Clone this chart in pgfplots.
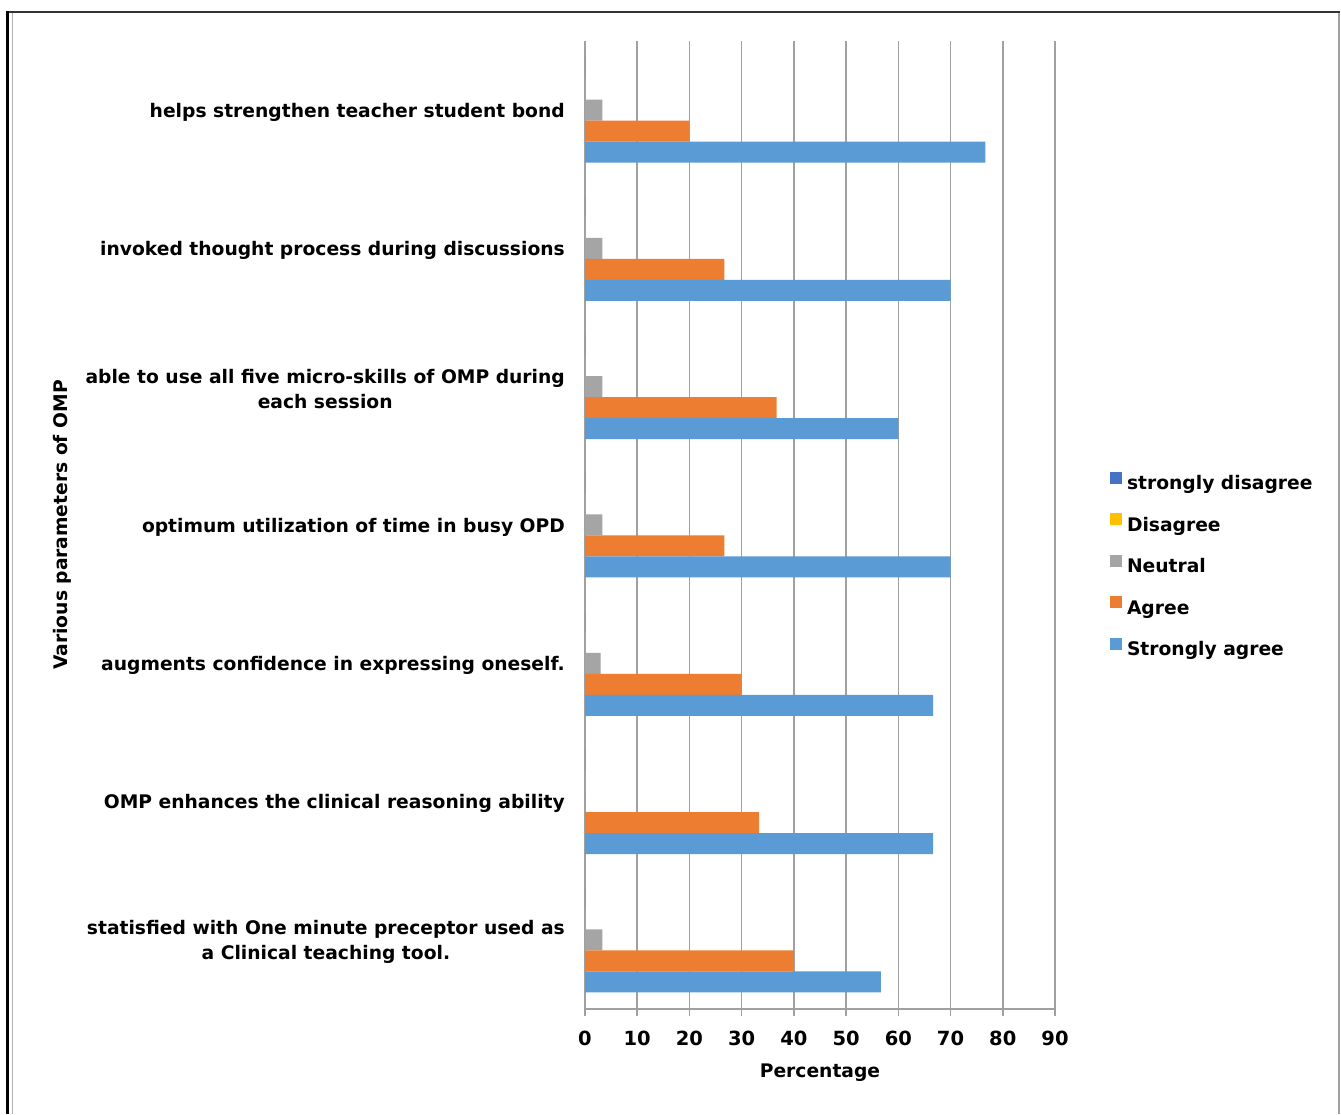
\documentclass[border=0pt]{standalone}
\usepackage{fontspec}
\setmainfont{DejaVu Sans}
\usepackage{pgfplots}
\pgfplotsset{compat=1.18}
\definecolor{cSD}{HTML}{4472C4}
\definecolor{cDA}{HTML}{FFC000}
\definecolor{cNE}{HTML}{A5A5A5}
\definecolor{cAG}{HTML}{ED7D31}
\definecolor{cSA}{HTML}{5B9BD5}
\definecolor{gridgray}{HTML}{A0A0A0}
\newcommand{\lblfont}{\fontsize{18.7bp}{25bp}\selectfont\bfseries}
\begin{document}
\begin{tikzpicture}[x=1bp,y=1bp]
\useasboundingbox (0,0) rectangle (1341,1114);
\fill[white] (0,0) rectangle (1341,1114);
\draw[line width=1.5bp, black!80] (6,1102) -- (1340,1102);
\draw[line width=3bp, black] (7.5,1103) -- (7.5,0);
\draw[line width=1bp, black!30] (12.5,1101) -- (12.5,0);
\draw[line width=2bp, gridgray] (1339,1101) -- (1339,0);
\begin{axis}[
  at={(585bp,105bp)}, anchor=south west,
  scale only axis, width=470bp, height=968bp,
  xbar, bar width=0.1518,
  xmin=0, xmax=90, ymin=-0.5, ymax=6.5,
  xtick={0,10,...,90},
  ytick={0,1,2,3,4,5,6},
  yticklabels={{statisfied with One minute preceptor used as\\a Clinical teaching tool.},
    {OMP enhances the clinical reasoning ability},
    {augments confidence in expressing oneself.},
    {optimum utilization of time in busy OPD},
    {able to use all five micro-skills of OMP during\\each session},
    {invoked thought process during discussions},
    {helps strengthen teacher student bond}},
  axis x line*=bottom, axis y line*=left,
  axis line style={draw=gridgray, line width=1.5bp, -},
  xmajorgrids, grid style={draw=gridgray, line width=1.5bp},
  tick align=outside, major tick length=7bp,
  xtick style={draw=gridgray, line width=1.5bp},
  ytick style={draw=none},
  /pgf/number format/assume math mode=true,
  xticklabel style={font=\fontsize{19.5bp}{22bp}\selectfont\bfseries, anchor=base, inner sep=0pt, yshift=-29bp},
  yticklabel style={font=\lblfont, align=center, anchor=east, inner sep=0pt, xshift=-13bp, yshift=-2bp},
  xlabel={Percentage},
  xlabel style={font=\lblfont, at={(axis description cs:0.5,-0.0709)}, anchor=base, inner sep=0pt},
  ylabel={Various parameters of OMP},
  ylabel style={font=\lblfont, at={(axis description cs:-1.1128,0.5)}, anchor=center, rotate=0, inner sep=0pt},
  legend image code/.code={\fill[#1] (0bp,0.8bp) rectangle (12bp,12.8bp);},
  legend cell align=left,
  legend style={at={(axis description cs:1.117,0.4579)}, anchor=west, draw=none, fill=none,
    inner sep=0pt, outer sep=0pt, font=\lblfont, row sep=19.6bp, column sep=5bp,
    nodes={inner sep=0pt, text height=14bp, text depth=4bp}},
]
\addplot[fill=cSD, draw=none, bar shift=0.3036] coordinates {(0,0) (0,1) (0,2) (0,3) (0,4) (0,5) (0,6)};
\addlegendentry{strongly disagree}
\addplot[fill=cDA, draw=none, bar shift=0.1518] coordinates {(0,0) (0,1) (0,2) (0,3) (0,4) (0,5) (0,6)};
\addlegendentry{Disagree}
\addplot[fill=cNE, draw=none, bar shift=0] coordinates {(3.33,0) (0,1) (3,2) (3.33,3) (3.33,4) (3.33,5) (3.33,6)};
\addlegendentry{Neutral}
\addplot[fill=cAG, draw=none, bar shift=-0.1518] coordinates {(40,0) (33.33,1) (30,2) (26.67,3) (36.67,4) (26.67,5) (20,6)};
\addlegendentry{Agree}
\addplot[fill=cSA, draw=none, bar shift=-0.3036] coordinates {(56.67,0) (66.67,1) (66.67,2) (70,3) (60,4) (70,5) (76.67,6)};
\addlegendentry{Strongly agree}
\end{axis}
\end{tikzpicture}
\end{document}
